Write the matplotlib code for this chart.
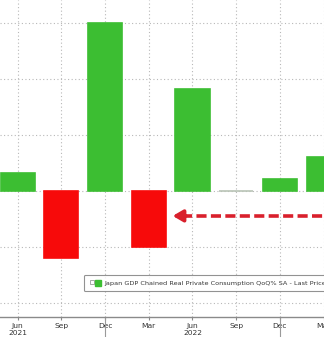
import matplotlib
matplotlib.use("Agg")
import matplotlib.pyplot as plt
from matplotlib.patches import Patch
from matplotlib.lines import Line2D
from matplotlib.legend_handler import HandlerTuple
from matplotlib.transforms import blended_transform_factory

# quarterly data, Jun 2021 .. Mar 2023
month_labels = ["Jun", "Sep", "Dec", "Mar", "Jun", "Sep", "Dec", "Mar"]
year_labels = ["2021", "", "", "", "2022", "", "", ""]
consumption_qoq = [0.31, -1.2, 3.0, -1.0, 1.81, 0.0, 0.21, 0.6]
legend_label = "Japan GDP Chained Real Private Consumption QoQ% SA - Last Price"

GREEN = "#3cbe32"
RED = "#f70a0a"
ZERO = "#b9c4b6"
GRID = "#b8b8b8"


def main():
    fig = plt.figure(figsize=(3.24, 3.37), dpi=100)
    ax = fig.add_axes([0, 0.0585, 1, 0.9415])

    x = list(range(len(consumption_qoq)))
    colors = []
    for v in consumption_qoq:
        if v > 0:
            colors.append(GREEN)
        elif v < 0:
            colors.append(RED)
        else:
            colors.append(ZERO)
    ax.bar(x, consumption_qoq, width=0.78, color=colors, edgecolor=colors,
           linewidth=1.2, zorder=3)

    ax.set_xlim(-0.405, 7.01)
    ax.set_ylim(-2.26, 3.405)

    # grid
    ax.set_yticks([-2, -1, 0, 1, 2, 3])
    ax.set_xticks(x)
    ax.grid(True, linestyle=(0, (1, 2.2)), color=GRID, linewidth=0.8, zorder=0)
    ax.tick_params(axis="y", left=False, labelleft=False)
    ax.tick_params(axis="x", length=2.5, width=0.8, color="#888888", pad=1.5,
                   labelsize=5.4, labelcolor="#333333")
    ax.set_xticklabels([m + ("\n" + y if y else "") for m, y in zip(month_labels, year_labels)],
                       linespacing=1.2, va="top")

    for s in ["left", "right", "top"]:
        ax.spines[s].set_visible(False)
    ax.spines["bottom"].set_color("#8a8a8a")
    ax.spines["bottom"].set_linewidth(1.0)

    # year separators under Dec ticks
    trans = blended_transform_factory(ax.transData, ax.transAxes)
    for i, m in enumerate(month_labels):
        if m == "Dec":
            ax.plot([i, i], [0, -0.07], transform=trans, color="#9a9a9a",
                    linewidth=0.8, clip_on=False)

    # dashed arrow pointing at the March bar
    ax.plot([3.75, 7.3], [-0.45, -0.45], color="#d9202c", linewidth=2.6,
            linestyle=(0, (2.8, 1.2)), solid_capstyle="butt", zorder=4, clip_on=False)
    ax.annotate("", xy=(3.547, -0.45), xytext=(3.85, -0.45),
                arrowprops=dict(arrowstyle="-|>,head_length=0.6,head_width=0.35",
                                color="#d9202c", linewidth=2.6, shrinkA=0, shrinkB=0),
                zorder=5)

    box = Line2D([], [], marker="s", markersize=2.4, markerfacecolor="none",
                 markeredgecolor="#9a9a9a", markeredgewidth=0.6, linestyle="")
    handle = Patch(facecolor=GREEN, edgecolor=GREEN)
    leg = fig.legend([(box, handle)], [legend_label], loc="upper left",
                     bbox_to_anchor=(0.259, 0.184), fontsize=4.65, frameon=True,
                     handler_map={tuple: HandlerTuple(ndivide=None, pad=0.15)},
                     handlelength=1.9, handleheight=1.1, handletextpad=0.45,
                     borderpad=0.75, fancybox=True, borderaxespad=0)
    leg.get_frame().set_edgecolor("#777777")
    leg.get_frame().set_linewidth(0.8)
    for t in leg.get_texts():
        t.set_color("#333333")

    fig.savefig("out.png", dpi=100)


if __name__ == "__main__":
    main()
